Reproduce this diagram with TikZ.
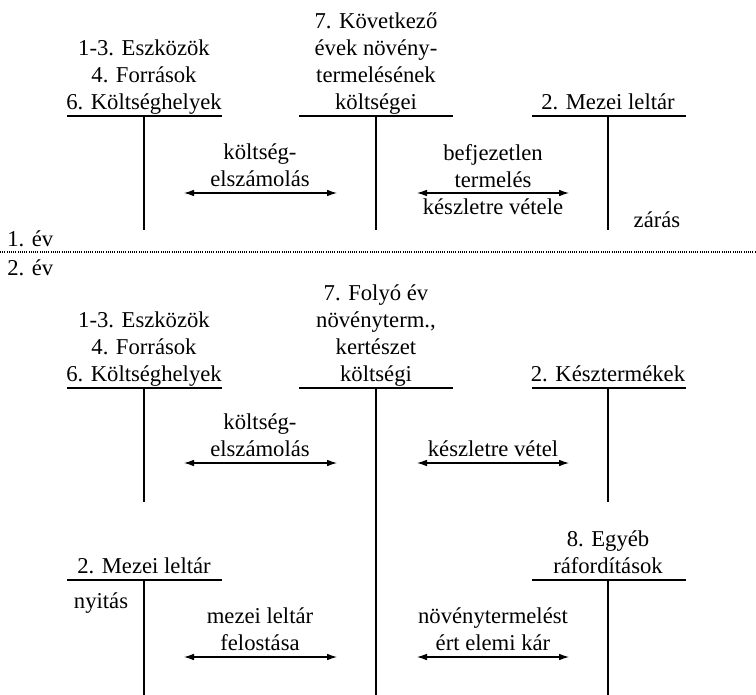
\documentclass[tikz,border=0pt]{standalone}
\usepackage{fontspec}
\IfFontExistsTF{LiberationSerif-Regular.ttf}{\setmainfont{LiberationSerif-Regular.ttf}}{\setmainfont{Liberation Serif}}
\usetikzlibrary{arrows.meta}
\begin{document}
\begin{tikzpicture}[x=0.75pt,y=-0.75pt,
  tline/.style={line width=1.8pt},
  flow/.style={line width=0.8pt,{Latex[length=7.5pt,width=5pt]}-{Latex[length=7.5pt,width=5pt]}},
  ttl/.style={anchor=south,inner sep=0pt,align=center,font=\fontsize{17}{20.25}\selectfont},
  lbl/.style={anchor=base,inner sep=0pt,font=\fontsize{17}{20.25}\selectfont},
  yr/.style={anchor=base west,inner sep=0pt,font=\fontsize{17}{20.25}\selectfont}]
\useasboundingbox (0,0) rectangle (756,695);

% ---------- 1. év ----------
\node[ttl] (t1) at (144,118) {1-3. Eszközök\\4. Források\\6. Költséghelyek\strut};
\node[ttl] (t2) at (376,118) {7. Következő\\évek növény-\\termelésének\\költségei\strut};
\node[ttl] (t3) at (608,118) {2. Mezei leltár\strut};
\draw[tline] (67,116) -- (222,116) (144,116) -- (144,230);
\draw[tline] (299,116) -- (453,116) (376,116) -- (376,230);
\draw[tline] (532,116) -- (686,116) (608,116) -- (608,230);

\node[ttl] (l1) at (260,195) {költség-\\elszámolás\strut};
\node[ttl] (l2) at (493,223) {befjezetlen\\termelés\\készletre vétele\strut};
\coordinate (a1s) at (184,193); \coordinate (a1e) at (337,193);
\coordinate (a2s) at (417,193); \coordinate (a2e) at (569,193);
\draw[flow] (a1s) -- (a1e);
\draw[flow] (a2s) -- (a2e);
\node[lbl] (zaras) at (657,228) {zárás};

% ---------- separator ----------
\node[yr] (ev1) at (7,247) {1. év};
\coordinate (sepl) at (0,252); \coordinate (sepr) at (756,252);
\draw[line width=0.75pt,black,dash pattern=on 0.75pt off 0.9pt] (sepl) -- (sepr);
\node[yr] (ev2) at (7,276) {2. év};

% ---------- 2. év ----------
\node[ttl] (t4) at (144,390) {1-3. Eszközök\\4. Források\\6. Költséghelyek\strut};
\node[ttl] (t5) at (376,390) {7. Folyó év\\növényterm.,\\kertészet\\költségi\strut};
\node[ttl] (t6) at (608,390) {2. Késztermékek\strut};
\draw[tline] (67,388) -- (222,388) (144,388) -- (144,502);
\draw[tline] (299,388) -- (453,388) (376,388) -- (376,695);
\draw[tline] (532,388) -- (686,388) (608,388) -- (608,502);

\node[ttl] (l3) at (260,465) {költség-\\elszámolás\strut};
\node[ttl] (l4) at (493,465) {készletre vétel\strut};
\coordinate (b1s) at (184,463); \coordinate (b1e) at (337,463);
\coordinate (b2s) at (417,463); \coordinate (b2e) at (569,463);
\draw[flow] (b1s) -- (b1e);
\draw[flow] (b2s) -- (b2e);

\node[ttl] (t7) at (144,582) {2. Mezei leltár\strut};
\node[ttl] (t8) at (608,582) {8. Egyéb\\ráfordítások\strut};
\draw[tline] (67,580) -- (222,580) (144,580) -- (144,695);
\draw[tline] (532,580) -- (686,580) (608,580) -- (608,695);
\node[lbl] (nyitas) at (101,608) {nyitás};

\node[ttl] (l5) at (260,659) {mezei leltár\\felostása\strut};
\node[ttl] (l6) at (493,659) {növénytermelést\\ért elemi kár\strut};
\coordinate (c1s) at (184,657); \coordinate (c1e) at (337,657);
\coordinate (c2s) at (417,657); \coordinate (c2e) at (569,657);
\draw[flow] (c1s) -- (c1e);
\draw[flow] (c2s) -- (c2e);
\end{tikzpicture}
\end{document}
